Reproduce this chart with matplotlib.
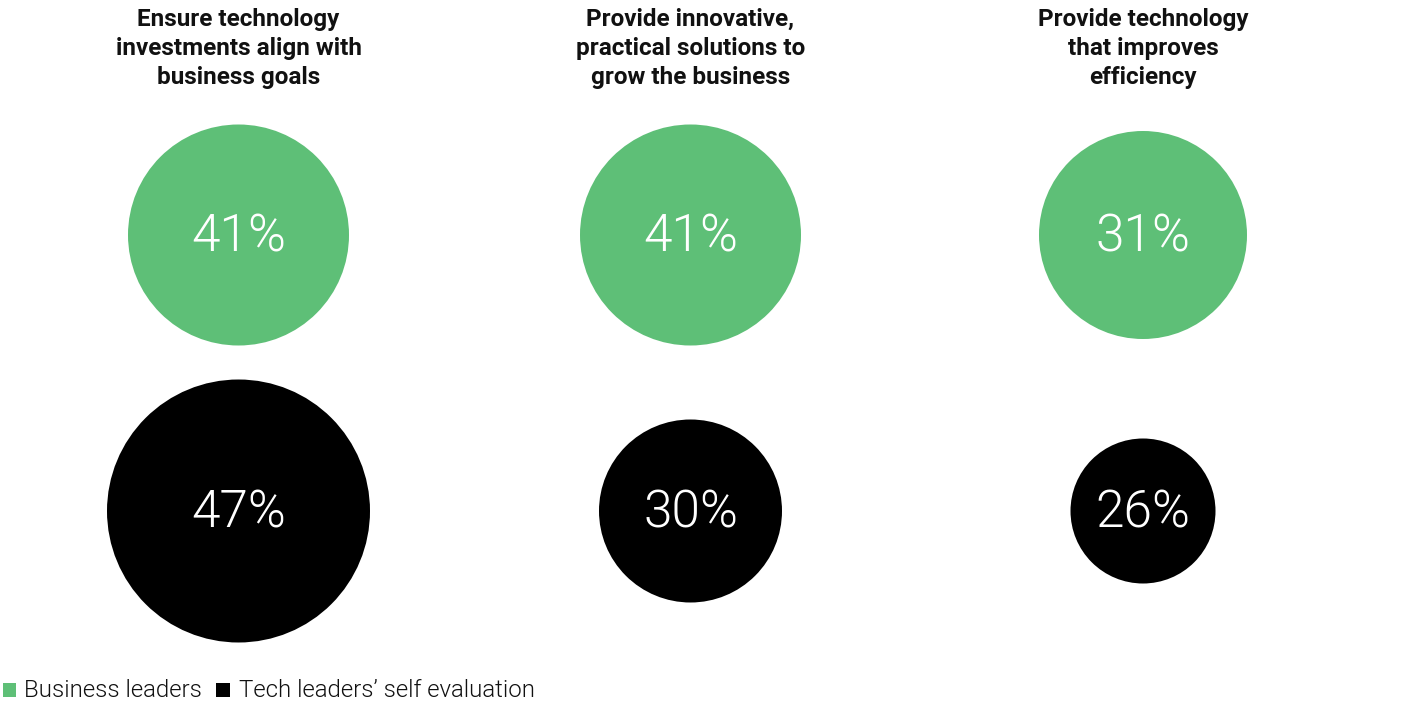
import matplotlib
matplotlib.use("Agg")
import matplotlib.pyplot as plt
from matplotlib.patches import Circle, Rectangle

# survey results, percent
goals = [["Ensure technology", "investments align with", "business goals"],
         ["Provide innovative,", "practical solutions to", "grow the business"],
         ["Provide technology", "that improves", "efficiency"]]
business_leaders = [41, 41, 31]
tech_leaders = [47, 30, 26]
series_names = ["Business leaders", "Tech leaders\u2019 self evaluation"]

# layout (pixels, y down)
col_x = [238.5, 690.5, 1143]
row_y = [235, 511]
green_d = [221, 221, 208]
black_d = [263, 183, 145]
title_base = [26, 55, 84]

GREEN = "#5ebf77"
BLACK = "#000000"
INK = "#111111"

plt.rcParams['font.family'] = ['Roboto', 'DejaVu Sans']

fig = plt.figure(figsize=(14.05, 7.02), dpi=100)
ax = fig.add_axes([0, 0, 1, 1])
ax.set_xlim(0, 1405)
ax.set_ylim(702, 0)
ax.set_aspect('equal')
ax.axis('off')

for i, lines in enumerate(goals):
    for line, yb in zip(lines, title_base):
        ax.text(col_x[i], yb, line, ha='center', va='baseline', fontsize=17.5,
                fontweight='bold', color=INK)

    for val, d, y, c in [(business_leaders[i], green_d[i], row_y[0], GREEN),
                         (tech_leaders[i], black_d[i], row_y[1], BLACK)]:
        ax.add_patch(Circle((col_x[i], y), d / 2, color=c, lw=0))
        ax.text(col_x[i], y + 17, f"{val}%", ha='center', va='baseline',
                fontsize=37, fontweight=300, color='white')

# legend along the bottom
ax.add_patch(Rectangle((3, 683), 13, 14, color=GREEN, lw=0))
ax.text(24, 697, series_names[0], ha='left', va='baseline', fontsize=17.3,
        fontweight=300, color=INK)
ax.add_patch(Rectangle((216, 683), 14, 14, color=BLACK, lw=0))
ax.text(239, 697, series_names[1], ha='left', va='baseline', fontsize=17.3,
        fontweight=300, color=INK)

fig.savefig("out.png", dpi=100)
